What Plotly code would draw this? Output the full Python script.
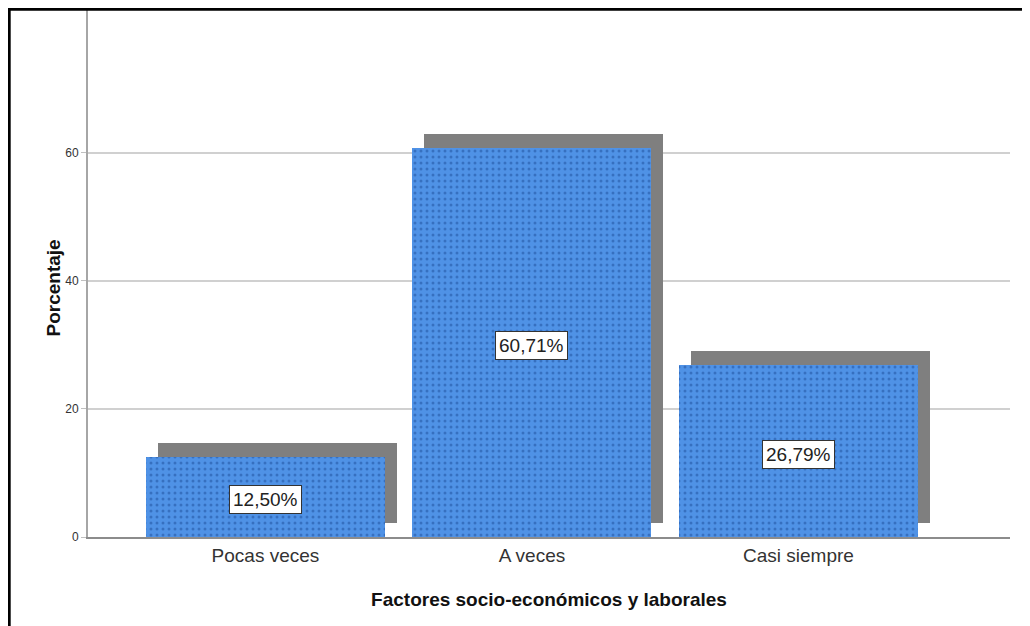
import plotly.graph_objects as go

categories = ["Pocas veces", "A veces", "Casi siempre"]
values = [12.50, 60.71, 26.79]
labels = ["12,50%", "60,71%", "26,79%"]
y_ticks = [0, 20, 40, 60]

# page body has an 8px margin; figure coords = page coords - 8
W, H = 1022, 618
L, R, T, B = 80, 20, 2, 89
pw, ph = W - L - R, H - T - B

def px_x(p):
    return (p - L) / pw

def px_y(p):
    return (H - B - p) / ph

bar_w = 0.897
shadow_dx = 0.045
shadow_base = 2.2

fig = go.Figure()
fig.add_trace(go.Bar(
    x=categories, y=values, base=[shadow_base] * len(values),
    width=bar_w, offset=-bar_w / 2 + shadow_dx,
    marker=dict(color="#7f7f7f", line=dict(width=0)),
    hoverinfo="skip", showlegend=False,
))
fig.add_trace(go.Bar(
    x=categories, y=values, width=bar_w, offset=-bar_w / 2,
    marker=dict(color="#4f92e6", line=dict(width=0),
                pattern=dict(shape=".", fgcolor="#1d4e99", bgcolor="#4f92e6",
                             size=6, solidity=0.2)),
    showlegend=False,
))

for c, v, t in zip(categories, values, labels):
    fig.add_annotation(x=c, y=v / 2, text=t, showarrow=False, yshift=-3,
                       font=dict(family="Liberation Sans, Arial", size=19, color="#222"),
                       bgcolor="white", bordercolor="#333", borderwidth=1, borderpad=3)

# y axis title, placed as in the reference (slightly below center)
fig.add_annotation(xref="paper", yref="paper", x=px_x(32), y=px_y(280),
                   text="<b>Porcentaje</b>", textangle=-90, showarrow=False,
                   font=dict(family="Liberation Sans, Arial", size=19, color="#111"))

# outer frame (top and left thick black, right faint)
fig.add_shape(type="line", xref="paper", yref="paper",
              x0=px_x(0), x1=px_x(W), y0=px_y(1.2), y1=px_y(1.2),
              line=dict(color="black", width=3))
fig.add_shape(type="line", xref="paper", yref="paper",
              x0=px_x(1.2), x1=px_x(1.2), y0=px_y(0), y1=px_y(H),
              line=dict(color="black", width=3))
fig.add_shape(type="line", xref="paper", yref="paper",
              x0=px_x(W - 1.5), x1=px_x(W - 1.5), y0=px_y(2), y1=px_y(H),
              line=dict(color="#cccccc", width=1))

fig.update_layout(
    width=W, height=H,
    margin=dict(l=L, r=R, t=T, b=B),
    paper_bgcolor="white", plot_bgcolor="white",
    barmode="overlay", bargap=0,
    font=dict(family="Liberation Sans, Arial", color="#333"),
    xaxis=dict(
        range=[-0.666, 2.794], showgrid=False,
        showline=True, linecolor="#8c8c8c", linewidth=2,
        ticks="", tickfont=dict(size=19, color="#333"),
        title=dict(text="<b>Factores socio-económicos y laborales</b>",
                   font=dict(size=19, color="#111"), standoff=28),
    ),
    yaxis=dict(
        range=[0, 82.3], tickvals=y_ticks,
        showgrid=True, gridcolor="#d0d0d0", gridwidth=1.5,
        showline=True, linecolor="#a6a6a6", linewidth=2,
        ticks="outside", ticklen=5, tickcolor="#c0c0c0",
        tickfont=dict(size=12, color="#333"), zeroline=False,
    ),
)

fig.write_html("out.html")
